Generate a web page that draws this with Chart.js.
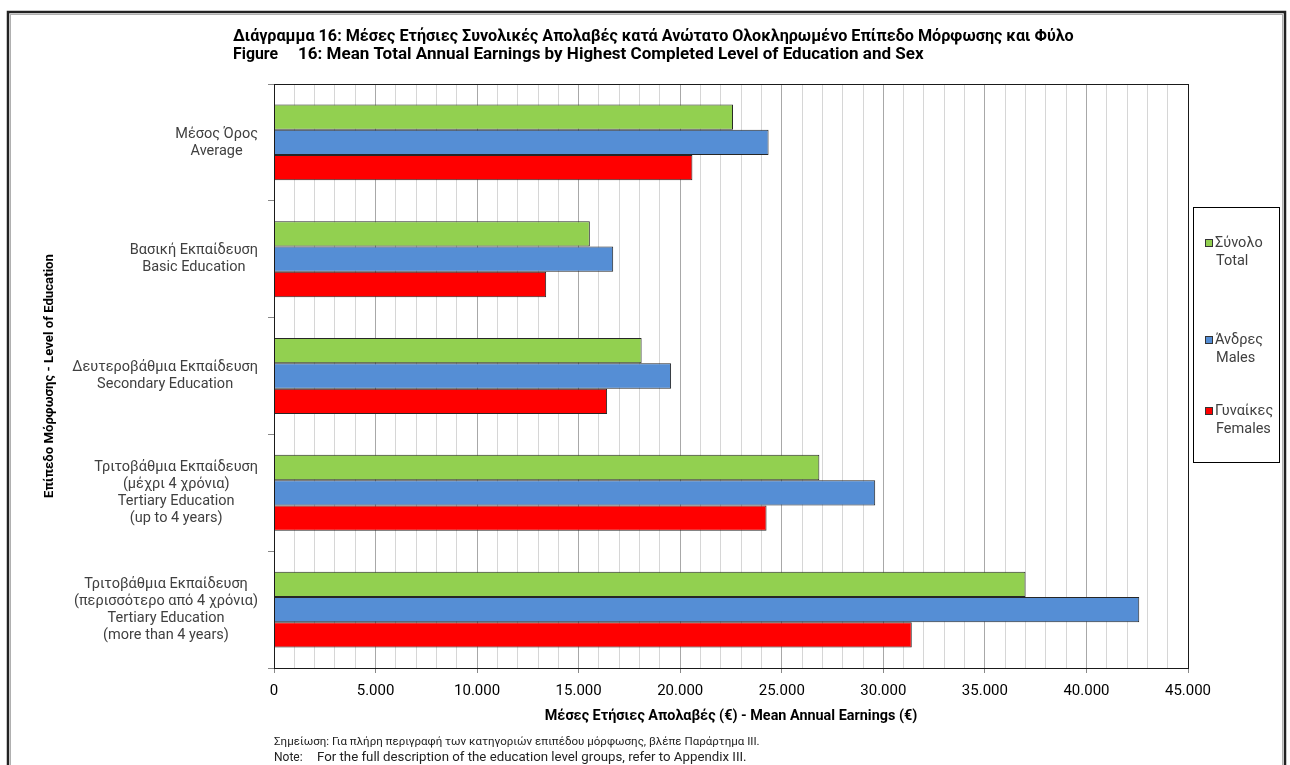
<!DOCTYPE html>
<html>
<head>
<meta charset="utf-8">
<script src="https://cdn.jsdelivr.net/npm/chart.js@4.4.1/dist/chart.umd.min.js"></script>
<style>
  html, body { margin: 0; padding: 0; background: #fff; }
  canvas { display: block; }
</style>
</head>
<body>
<canvas id="earningsChart" width="1290" height="765"></canvas>
<script>
// Δεδομένα (εκτίμηση από το διάγραμμα)
const categories = [
    ['Μέσος Όρος', 'Average'],
    ['Βασική Εκπαίδευση', 'Basic Education'],
    ['Δευτεροβάθμια Εκπαίδευση', 'Secondary Education'],
    ['Τριτοβάθμια Εκπαίδευση', '(μέχρι 4 χρόνια)', 'Tertiary Education', '(up to 4 years)'],
    ['Τριτοβάθμια Εκπαίδευση', '(περισσότερο από 4 χρόνια)', 'Tertiary Education', '(more than 4 years)']
];
const seriesNames = [['Σύνολο', 'Total'], ['Άνδρες', 'Males'], ['Γυναίκες', 'Females']];
const totalValues = [22600, 15550, 18100, 26850, 37000];
const maleValues = [24350, 16700, 19550, 29600, 42600];
const femaleValues = [20600, 13400, 16400, 24250, 31400];
const seriesColors = ['#92d050', '#558ed5', '#ff0000'];
const xMax = 45000;

const FONT = 'Roboto, "Noto Sans", sans-serif';

function formatThousands(v) {
    return String(v).replace(/\B(?=(\d{3})+(?!\d))/g, '.');
}

// γράφει κείμενο με μέγεθος γραμματοσειράς ώστε να πιάνει το πλάτος του πρωτότυπου
function fitText(ctx, text, x, y, width, weight) {
    ctx.font = weight + ' 20px ' + FONT;
    const size = 20 * width / ctx.measureText(text).width;
    ctx.font = weight + ' ' + size.toFixed(2) + 'px ' + FONT;
    ctx.fillText(text, x, y);
}

// plugin: πλαίσιο, τίτλος, υπόμνημα, σημειώσεις, ετικέτες κατηγοριών
const decorPlugin = {
    id: 'decor',
    beforeDraw(chart) {
        const ctx = chart.ctx;
        ctx.save();
        ctx.fillStyle = '#fff';
        ctx.fillRect(0, 0, chart.width, chart.height);
        ctx.restore();
    },
    afterDatasetsDraw(chart) {
        const ctx = chart.ctx;
        const area = chart.chartArea;
        ctx.save();
        // περίγραμμα περιοχής σχεδίασης
        ctx.strokeStyle = '#1a1a1a';
        ctx.lineWidth = 1;
        ctx.strokeRect(area.left + 0.5, area.top + 0.5, area.right - area.left, area.bottom - area.top);
        ctx.restore();
    },
    afterDraw(chart) {
        const ctx = chart.ctx;
        const yScale = chart.scales.y;
        ctx.save();

        // εξωτερικό πλαίσιο
        ctx.strokeStyle = '#222';
        ctx.lineWidth = 2.5;
        ctx.strokeRect(8, 12, 1277, 770);
        ctx.strokeStyle = '#b0b0b0';
        ctx.lineWidth = 1;
        ctx.strokeRect(10.5, 14.5, 1272, 770);

        // τίτλος
        ctx.fillStyle = '#000';
        ctx.textBaseline = 'middle';
        ctx.textAlign = 'left';
        fitText(ctx, 'Διάγραμμα 16: Μέσες Ετήσιες Συνολικές Απολαβές κατά Ανώτατο Ολοκληρωμένο Επίπεδο Μόρφωσης και Φύλο', 233, 37, 841, 'bold');
        fitText(ctx, 'Figure', 233, 55, 45, 'bold');
        fitText(ctx, '16: Mean Total Annual Earnings by Highest Completed Level of Education and Sex', 298, 55, 626, 'bold');

        // ετικέτες κατηγοριών (δεξιά στοίχιση μπλοκ, κεντραρισμένες γραμμές)
        ctx.font = '14.5px ' + FONT;
        ctx.fillStyle = '#404040';
        ctx.textAlign = 'center';
        const rightEdge = 258;
        const lineH = 17;
        categories.forEach((lines, i) => {
            const yc = yScale.getPixelForValue(i);
            const widest = Math.max(...lines.map(l => ctx.measureText(l).width));
            const xc = rightEdge - widest / 2;
            lines.forEach((l, j) => {
                ctx.fillText(l, xc, yc + (j - (lines.length - 1) / 2) * lineH);
            });
        });

        // υπόμνημα
        ctx.strokeStyle = '#000';
        ctx.lineWidth = 1;
        ctx.strokeRect(1193.5, 207.5, 86, 255);
        const legendY = [243, 340, 411];
        ctx.textAlign = 'left';
        ctx.font = '14.5px ' + FONT;
        chart.data.datasets.forEach((ds, i) => {
            const y = legendY[i];
            ctx.fillStyle = ds.backgroundColor;
            ctx.fillRect(1205, y - 4, 8, 8);
            ctx.strokeStyle = '#333';
            ctx.strokeRect(1205.5, y - 3.5, 7, 7);
            ctx.fillStyle = '#404040';
            ctx.fillText(seriesNames[i][0], 1215, y);
            ctx.fillText(seriesNames[i][1], 1216, y + 18);
        });

        // σημειώσεις
        ctx.fillStyle = '#222';
        fitText(ctx, 'Σημείωση: Για πλήρη περιγραφή των κατηγοριών επιπέδου μόρφωσης, βλέπε Παράρτημα ΙΙΙ.', 274, 742, 486, 'normal');
        ctx.font = '12px ' + FONT;
        ctx.fillText('Note:', 274, 758);
        fitText(ctx, 'For the full description of the education level groups, refer to Appendix III.', 317, 758, 430, 'normal');

        ctx.restore();
    }
};

const chart = new Chart(document.getElementById('earningsChart'), {
    type: 'bar',
    data: {
        labels: categories.map(c => c.join(' ')),
        datasets: [
            { label: 'Σύνολο - Total', data: totalValues, backgroundColor: seriesColors[0] },
            { label: 'Άνδρες - Males', data: maleValues, backgroundColor: seriesColors[1] },
            { label: 'Γυναίκες - Females', data: femaleValues, backgroundColor: seriesColors[2] }
        ].map(ds => Object.assign(ds, {
            borderColor: '#262626',
            borderWidth: 1,
            categoryPercentage: 0.65,
            barPercentage: 1.0
        }))
    },
    options: {
        indexAxis: 'y',
        responsive: false,
        animation: false,
        layout: {
            padding: { left: 8, top: 84, right: 102, bottom: 37 }
        },
        plugins: {
            legend: { display: false },
            tooltip: { enabled: false }
        },
        scales: {
            x: {
                min: 0,
                max: xMax,
                afterFit: (scale) => { scale.height = 60; },
                ticks: {
                    stepSize: 1000,
                    autoSkip: false,
                    maxRotation: 0,
                    maxTicksLimit: 100,
                    padding: 9,
                    color: '#000',
                    font: { family: FONT, size: 15 },
                    callback: (v) => (v % 5000 === 0 ? formatThousands(v) : '')
                },
                grid: {
                    color: (c) => (c.tick && c.tick.value % 5000 === 0 ? '#a8a8a8' : '#d6d6d6'),
                    tickColor: (c) => (c.tick && c.tick.value % 5000 === 0 ? '#888' : 'rgba(0,0,0,0)'),
                    tickLength: 5
                },
                border: { color: '#888' },
                title: {
                    display: true,
                    text: 'Μέσες Ετήσιες Απολαβές (€) - Mean Annual Earnings (€)',
                    color: '#000',
                    font: { family: FONT, size: 14.4, weight: 'bold' },
                    padding: { top: 0, bottom: 3 }
                }
            },
            y: {
                afterFit: (scale) => { scale.width = 266; },
                ticks: {
                    callback: () => ''
                },
                grid: {
                    offset: true,
                    drawOnChartArea: false,
                    tickLength: 6,
                    tickColor: '#888'
                },
                border: { color: '#555' },
                title: {
                    display: true,
                    text: 'Επίπεδο Μόρφωσης - Level of Education',
                    color: '#000',
                    font: { family: FONT, size: 13.2, weight: 'bold' },
                    padding: { top: 34, bottom: 0 }
                }
            }
        }
    },
    plugins: [decorPlugin]
});
</script>
</body>
</html>
